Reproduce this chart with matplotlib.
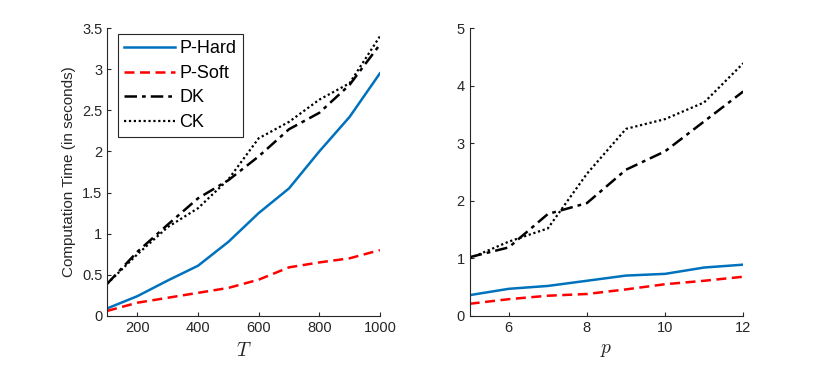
import matplotlib
matplotlib.use("Agg")
import matplotlib.pyplot as plt
from matplotlib.ticker import FuncFormatter

plt.rcParams['font.family'] = ['Liberation Sans', 'DejaVu Sans']
plt.rcParams['mathtext.fontset'] = 'cm'

T = [100, 200, 300, 400, 500, 600, 700, 800, 900, 1000]
T_phard = [0.09, 0.24, 0.43, 0.61, 0.90, 1.25, 1.55, 2.00, 2.42, 2.95]
T_psoft = [0.06, 0.16, 0.22, 0.28, 0.34, 0.44, 0.59, 0.65, 0.70, 0.80]
T_dk = [0.39, 0.78, 1.11, 1.43, 1.65, 1.94, 2.27, 2.47, 2.81, 3.30]
T_ck = [0.39, 0.75, 1.08, 1.31, 1.66, 2.16, 2.36, 2.63, 2.83, 3.40]

p = [5, 6, 7, 8, 9, 10, 11, 12]
p_phard = [0.36, 0.47, 0.52, 0.61, 0.70, 0.73, 0.84, 0.89]
p_psoft = [0.21, 0.29, 0.35, 0.38, 0.46, 0.55, 0.61, 0.68]
p_dk = [1.02, 1.19, 1.77, 1.96, 2.54, 2.86, 3.38, 3.90]
p_ck = [1.00, 1.29, 1.52, 2.47, 3.25, 3.42, 3.71, 4.39]

labels = ['P-Hard', 'P-Soft', 'DK', 'CK']
blue = (0, 0.447, 0.741)
styles = [dict(color=blue, ls='-', lw=1.8),
          dict(color='red', ls=(0, (4, 2.2)), lw=1.8),
          dict(color='black', ls=(0, (5, 2, 1.5, 2)), lw=1.8),
          dict(color='black', ls=(0, (1, 1.2)), lw=1.6)]

fig = plt.figure(figsize=(8.24, 3.66), dpi=100)
ax1 = fig.add_axes([0.130, 0.137, 0.331, 0.786])
ax2 = fig.add_axes([0.570, 0.137, 0.332, 0.786])

axc = (0.15, 0.15, 0.15)
for ax, x, ys in [(ax1, T, [T_phard, T_psoft, T_dk, T_ck]),
                  (ax2, p, [p_phard, p_psoft, p_dk, p_ck])]:
    for y, st, lab in zip(ys, styles, labels):
        ax.plot(x, y, label=lab, **st)
    for s in ['top', 'right']:
        ax.spines[s].set_visible(False)
    for s in ['left', 'bottom']:
        ax.spines[s].set_color(axc)
        ax.spines[s].set_linewidth(0.8)
    ax.tick_params(direction='in', colors=axc, labelsize=10.5, length=3, width=0.8)
    ax.yaxis.set_major_formatter(FuncFormatter(lambda v, pos: '%g' % v))

ax1.set_xlim(100, 1000)
ax1.set_ylim(0, 3.5)
ax1.set_xticks([200, 400, 600, 800, 1000])
ax1.set_yticks([0, 0.5, 1, 1.5, 2, 2.5, 3, 3.5])
ax1.set_xlabel('$T$', fontsize=14, color=axc, labelpad=5)
ax1.set_ylabel('Computation Time (in seconds)', fontsize=11, color=axc)

ax2.set_xlim(5, 12)
ax2.set_ylim(0, 5)
ax2.set_xticks([6, 8, 10, 12])
ax2.set_yticks([0, 1, 2, 3, 4, 5])
ax2.set_xlabel('$p$', fontsize=14, color=axc, labelpad=5)

leg = ax1.legend(loc='upper left', bbox_to_anchor=(0.04, 0.98), fontsize=13,
                 fancybox=False, framealpha=1, edgecolor=axc, handlelength=2.8,
                 borderpad=0.35, labelspacing=0.42, handletextpad=0.25,
                 borderaxespad=0)
leg.get_frame().set_linewidth(0.8)

fig.savefig('out.png', dpi=100)
